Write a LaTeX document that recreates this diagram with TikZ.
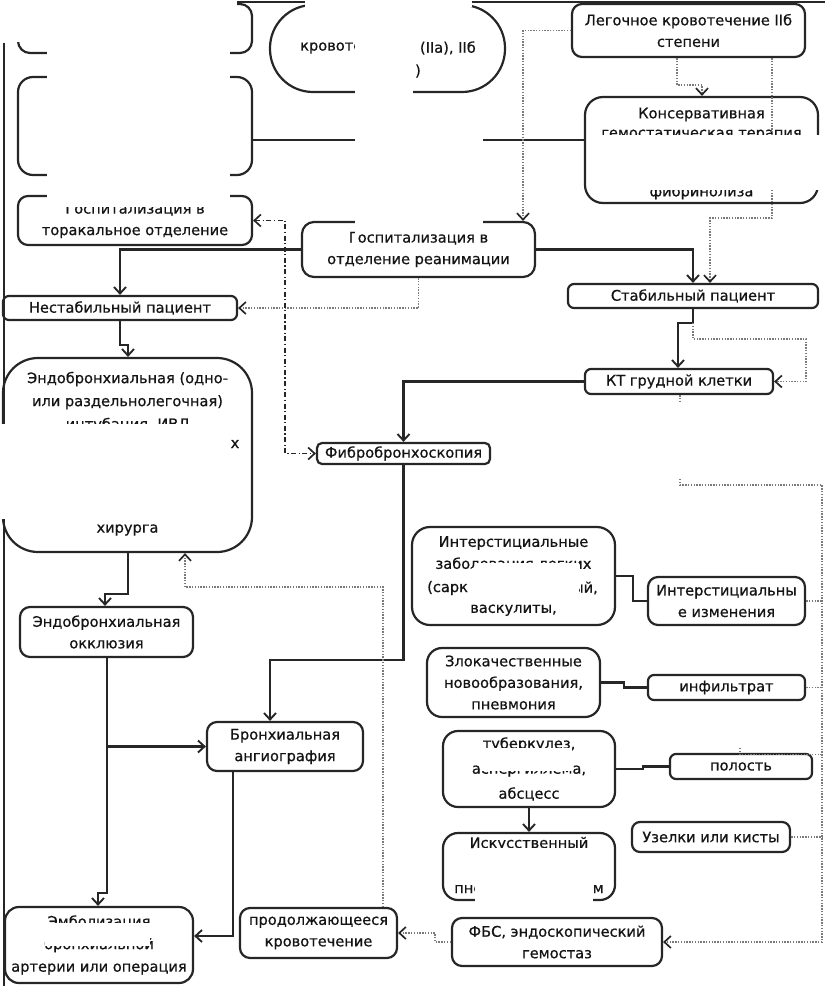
\documentclass[tikz,border=0pt]{standalone}
\usepackage{fontspec}
\setmainfont{DejaVu Sans}
\newfontfamily\heavyfam{DejaVu Sans}[FakeBold=0.7]
\usetikzlibrary{arrows.meta}
\definecolor{lc}{HTML}{262626}
\definecolor{dc}{HTML}{7A7A7A}
\definecolor{tc}{HTML}{141414}
\newcommand\myfs{\heavyfam\fontsize{14.6}{21.5}\selectfont}
\begin{document}
\begin{tikzpicture}[x=1pt,y=-1pt,
  box/.style={draw=lc, line width=2.2pt, rounded corners=#1, inner sep=0pt, align=center, font=\myfs, text=tc},
  box/.default=10pt,
  txt/.style={inner sep=0pt, align=center, font=\myfs, text=tc},
  ln/.style={line width=2.2pt, draw=lc},
  arr/.style={ln, -{Straight Barb[length=6.5pt,width=12pt,line width=1.9pt]}},
  dt/.style={line width=1.4pt, draw=dc, dash pattern=on 1.4pt off 1.4pt},
  dtarr/.style={dt, -{Straight Barb[length=6.5pt,width=12pt,line width=1.7pt,color=lc]}},
  dd/.style={line width=1.8pt, draw=lc, dash pattern=on 5pt off 2.5pt on 1.2pt off 2.5pt},
  patch/.style={fill=white, draw=none}]
\useasboundingbox (0,0) rectangle (825,986);
% frame lines
\draw[ln] (237,2) -- (825,2);
\draw[ln] (4,43) -- (4,986);
% boxes
\node[box=12pt, minimum width=234pt, minimum height=49pt] (A) at (135,28.5) {};
\node[box=43pt, minimum width=235pt, minimum height=87pt] (E) at (387.5,48.5) {};
\node[txt, anchor=west] (E1) at (300,48) {кровоте};
\node[txt, anchor=east] (E2) at (476,48) {(IIа), IIб};
\node[txt] (E3) at (418,71) {)};
\node[box=10pt, minimum width=233pt, minimum height=53pt] (L) at (688.5,30.5) {Легочное кровотечение IIб\\степени};
\node[box=15pt, minimum width=234pt, minimum height=98pt] (B) at (135,126) {};
\node[box=18pt, minimum width=233pt, minimum height=106pt] (K) at (701.5,150) {};
\node[txt, font={\heavyfam\fontsize{14.6}{19.5}\selectfont}] (Kt) at (701.5,153.5) {Консервативная\\гемостатическая терапия\\\mbox{}\\\mbox{}\\фибринолиза};
\node[box=10pt, minimum width=234pt, minimum height=49pt] (C) at (135,220.5) {Госпитализация в\\торакальное отделение};
\node[box=12pt, minimum width=233pt, minimum height=55pt] (R) at (418.5,249.5) {Госпитализация в\\отделение реанимации};
\node[box=6pt, minimum width=234pt, minimum height=24pt] (N) at (120,308) {Нестабильный пациент};
\node[box=6pt, minimum width=250pt, minimum height=24pt] (S) at (693,296) {Стабильный пациент};
\node[box=6pt, minimum width=188pt, minimum height=25pt] (KT) at (679,381.5) {КТ грудной клетки};
\node[box=35pt, minimum width=249pt, minimum height=194pt] (I) at (127.5,455) {};
\node[txt, font={\heavyfam\fontsize{14.6}{23}\selectfont}] (It1) at (127.5,402) {Эндобронхиальная (одно-\\или раздельнолегочная)\\интубация, ИВЛ};
\node[txt] (It2) at (127.5,530) {хирурга};
\node[txt] (Ix) at (235,444) {х};
\node[box=5pt, minimum width=173pt, minimum height=21pt] (F) at (403.5,453.5) {Фибробронхоскопия};
\node[box=10pt, minimum width=173pt, minimum height=50pt] (O) at (106.5,632) {Эндобронхиальная\\окклюзия};
\node[box=18pt, minimum width=203pt, minimum height=98pt, font={\heavyfam\fontsize{14.6}{22}\selectfont}] (Int1) at (513.5,576) {Интерстициальные\\заболевания легких\\\mbox{}\\васкулиты,};
\node[txt, anchor=west] (Int1a) at (427,588) {(сарк};
\node[txt, anchor=east] (Int1b) at (598,588) {ый,};
\node[box=10pt, minimum width=157pt, minimum height=48pt] (Int2) at (726.5,601) {Интерстициальны\\е изменения};
\node[box=15pt, minimum width=173pt, minimum height=69pt] (Zl) at (513.5,682.5) {Злокачественные\\новообразования,\\пневмония};
\node[box=6pt, minimum width=157pt, minimum height=25pt] (Inf) at (726.5,687.5) {инфильтрат};
\node[box=10pt, minimum width=156pt, minimum height=49pt] (BA) at (285,746.5) {Бронхиальная\\ангиография};
\node[box=15pt, minimum width=172pt, minimum height=76pt, font={\heavyfam\fontsize{14.6}{25}\selectfont}] (Tub) at (529,769) {туберкулез,\\аспергиллема,\\абсцесс};
\node[box=6pt, minimum width=142pt, minimum height=25pt] (Pol) at (741,766.5) {полость};
\node[box=15pt, minimum width=172pt, minimum height=67pt, font={\heavyfam\fontsize{14.6}{22.5}\selectfont}] (Isk) at (529,866.5) {Искусственный\\\mbox{}\\пневмоперитонеум};
\node[box=8pt, minimum width=158pt, minimum height=30pt] (Uz) at (711,837) {Узелки или кисты};
\node[box=14pt, minimum width=188pt, minimum height=76pt, font={\heavyfam\fontsize{14.6}{22.5}\selectfont}] (Emb) at (99,945) {Эмболизация\\бронхиальной\\артерии или операция};
\node[box=10pt, minimum width=157pt, minimum height=50pt] (P) at (318.5,933) {продолжающееся\\кровотечение};
\node[box=10pt, minimum width=210pt, minimum height=48pt] (FBS) at (557,942) {ФБС, эндоскопический\\гемостаз};
% connectors
\coordinate (bk) at (252,140);
\draw[ln] (B.east |- bk) -- (K.west |- bk);
\draw[dtarr] (L.south -| 677,0) -- (677,85) -- (702,85) -- (K.north -| 702,0);
\draw[dtarr] (L.south -| 772,0) -- (772,218) -- (710,218) -- (S.north -| 710,0);
\draw[dtarr] (L.west) -| (R.north -| 523,0);
\draw[arr] (R.west) -| (N.north);
\draw[arr] (R.east) -| (S.north);
\draw[dtarr] (R.south) |- (N.east);
\draw[dd, {Straight Barb[length=6.5pt,width=12pt,line width=1.7pt]}-{Straight Barb[length=6.5pt,width=12pt,line width=1.7pt]}] (C.east) -- (C.east -| 285,0) |- (F.west);
\draw[arr] (N.south) -- (120,345) -- (128,345) -- (I.north -| 128,0);
\draw[arr] (S.south) -- (693,323) -- (678,323) -- (KT.north -| 678,0);
\draw[dtarr] (693,323) -- (693,339) -- (806,339) |- (KT.east);
\draw[arr] (KT.west) -| (F.north);
\draw[arr] (F.south) |- (270,660) -- (BA.north -| 270,0);
\draw[arr] (I.south -| 128,0) -- (128,594) -- (105,594) -- (O.north -| 105,0);
\draw[arr] (O.south -| 107,0) -- (107,893) -- (98,893) -- (Emb.north -| 98,0);
\coordinate (br) at (107,746.5);
\draw[arr] (br) -- (BA.west);
\draw[arr] (BA.south -| 233,0) -- (233,936) -- (Emb.east |- 0,936);
\draw[dtarr] (P.north -| 383,0) -- (383,587) -- (185,587) -- (I.south -| 185,0);
\draw[dtarr] (FBS.west) -- (435,942) |- (P.east);
\draw[dt] (KT.south -| 680,0) -- (680,403);
\draw[dtarr] (680,479) -- (680,485) -- (822,485) |- (FBS.east);
\draw[dt] (Int2.east) -- (Int2.east -| 822,0);
\draw[dt] (Inf.east) -- (Inf.east -| 822,0);
\draw[dt] (Uz.east) -- (Uz.east -| 822,0);
\draw[dt] (740,748) -- (740,754.5) -- (822,754.5);
\draw[ln] (Int1.east) -- (633,576) |- (Int2.west);
\draw[ln] (Zl.east) -- (624,682.5) |- (Inf.west);
\draw[ln] (Tub.east) -- (643,769) |- (Pol.west);
\draw[arr] (Tub.south) -- (Isk.north);
% white patches
\fill[patch] (0,0) rectangle (237,42);
\fill[patch] (47,0) rectangle (230,207);
\fill[patch] (305,0) rectangle (472,7);
\fill[patch] (355,0) rectangle (413,95);
\fill[patch] (355,95) rectangle (483,234);
\fill[patch] (598,135) rectangle (823,190);
\fill[patch] (0,424) rectangle (226,519);
\fill[patch] (476,563) rectangle (579,604);
\fill[patch] (480,748) rectangle (572,771);
\fill[patch] (475,848) rectangle (593,906);
\fill[patch] (45,923) rectangle (150,946);
\end{tikzpicture}
\end{document}
